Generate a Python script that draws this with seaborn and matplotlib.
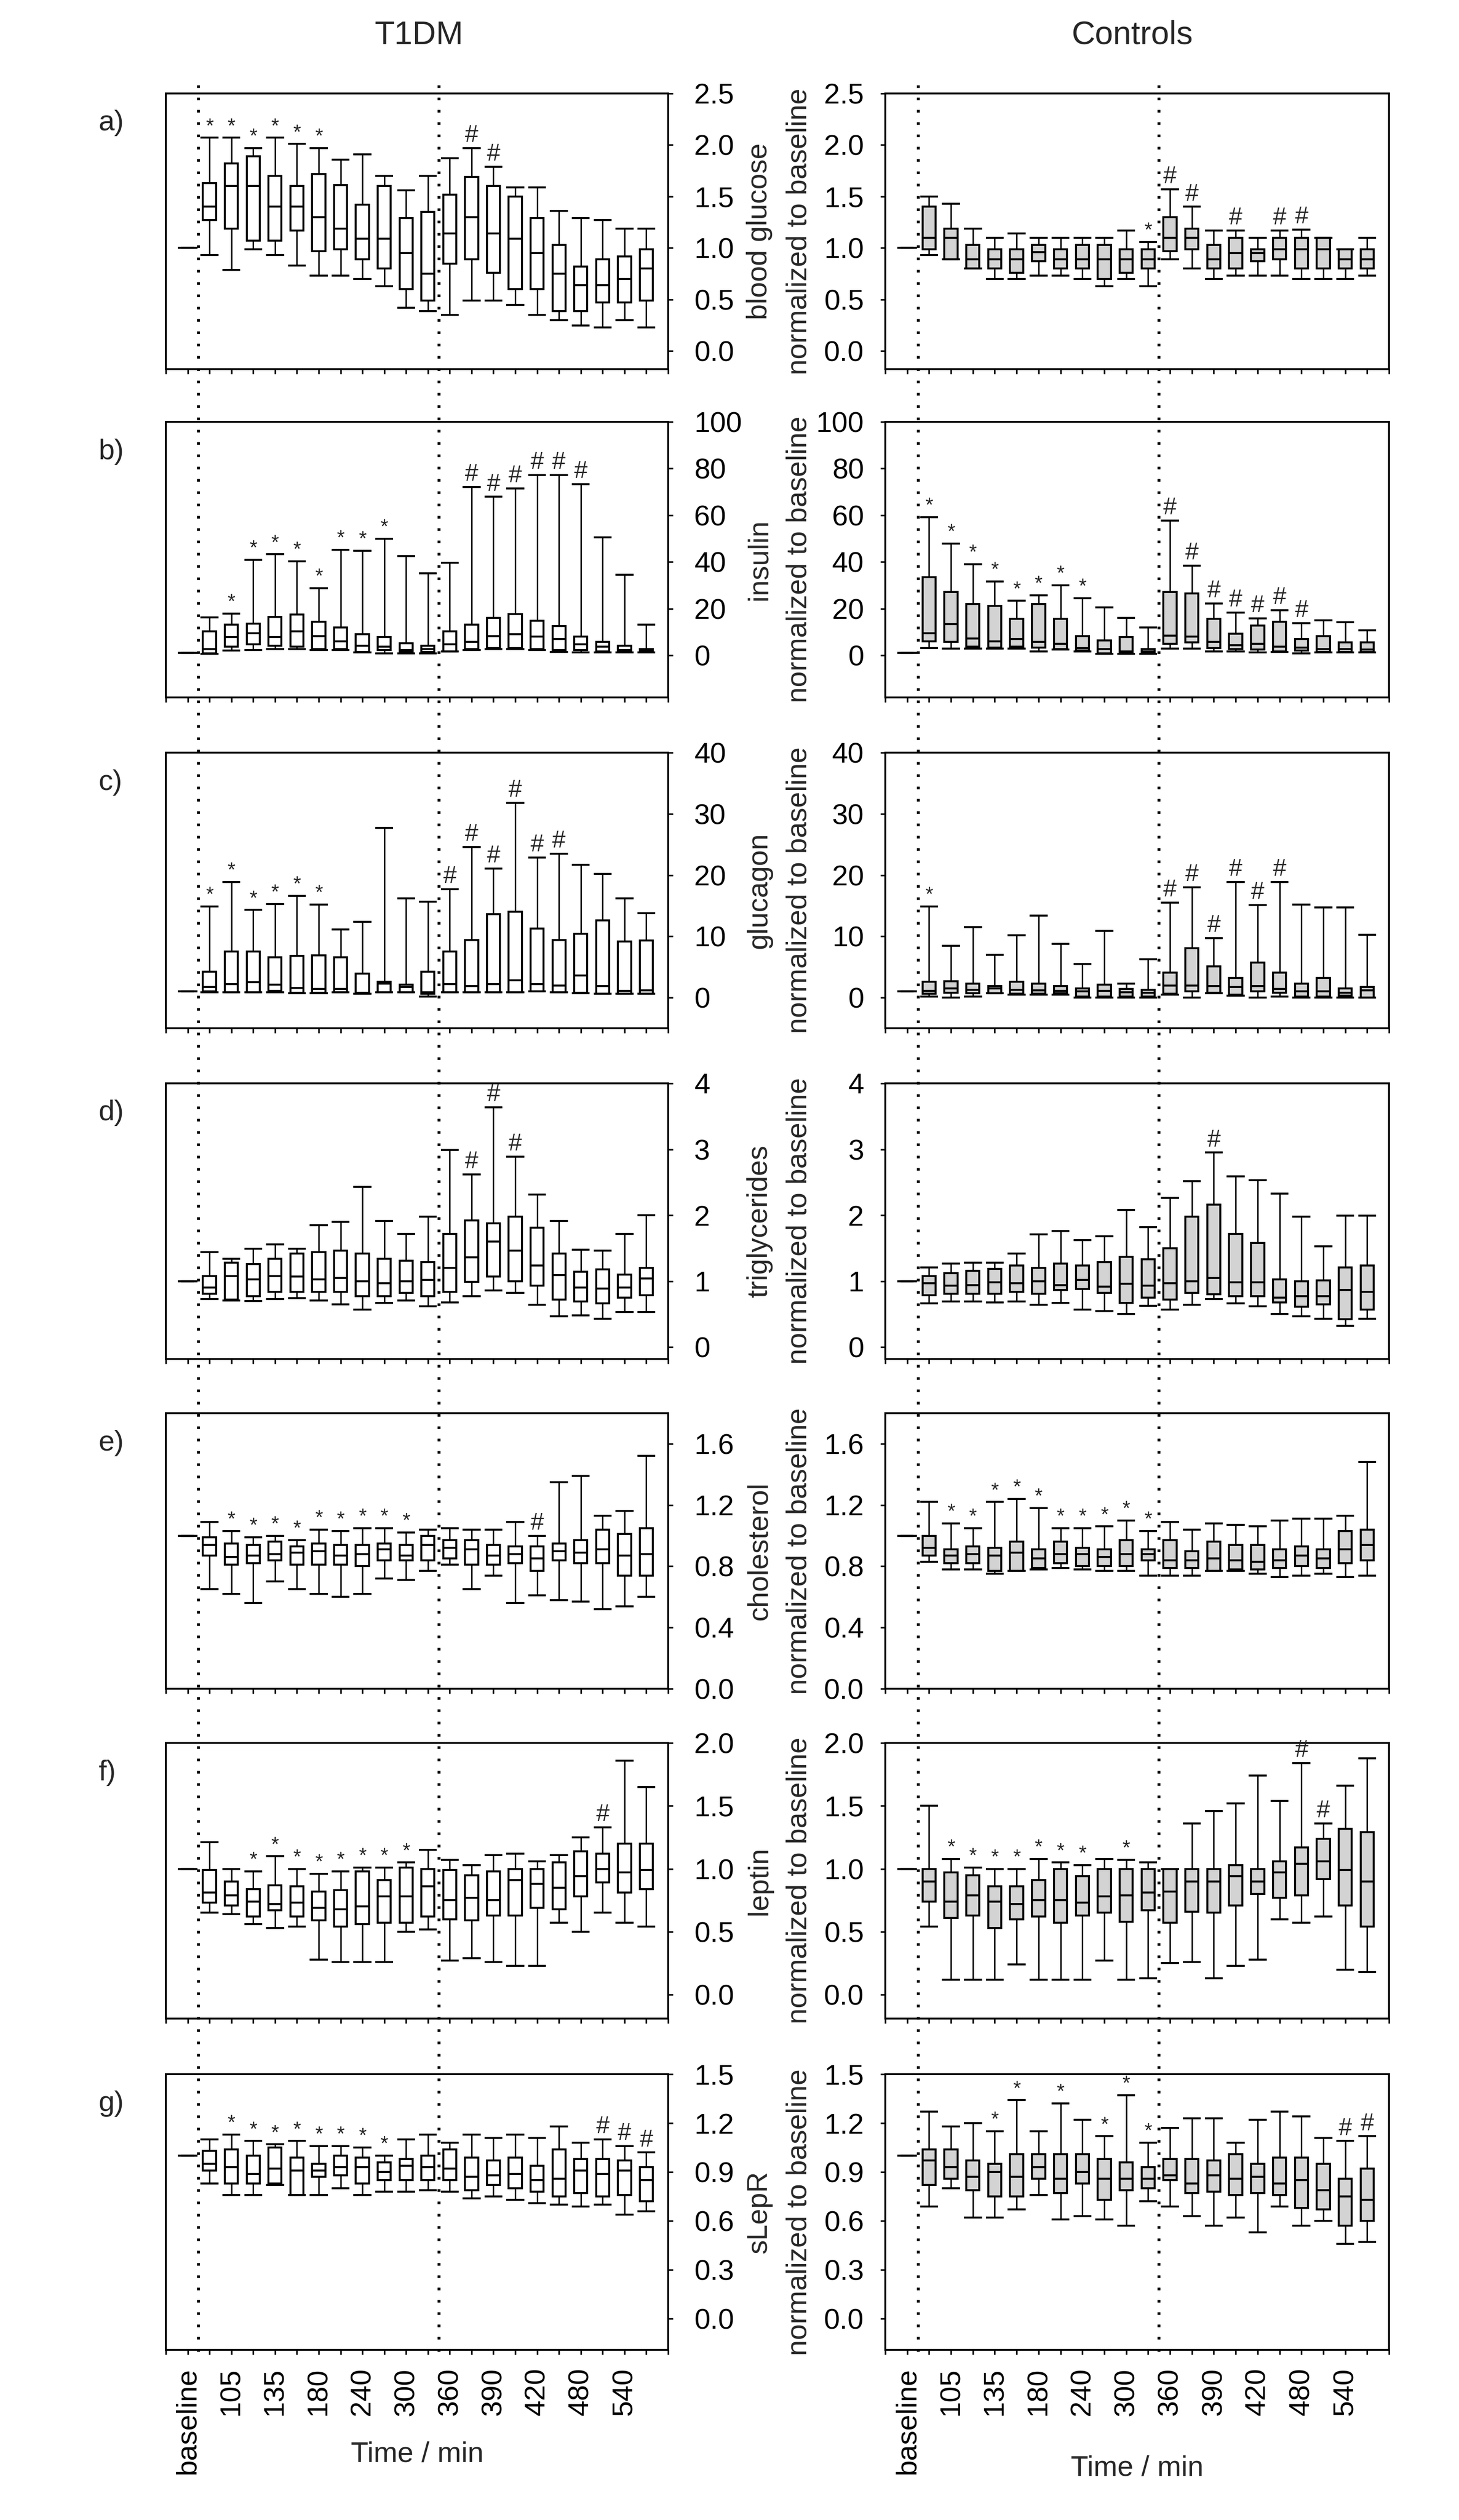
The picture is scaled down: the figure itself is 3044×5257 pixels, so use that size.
import numpy as np
import matplotlib
matplotlib.use("Agg")
import matplotlib.pyplot as plt
import matplotlib.transforms as mtransforms
from matplotlib.lines import Line2D
import seaborn as sns


# sampling points: baseline + 21 time points, only every second one labelled
TIME_LABELS = ["baseline", "", "105", "", "135", "", "180", "", "240", "", "300", "",
               "360", "", "390", "", "420", "", "480", "", "540", ""]
BASELINE = 1.0   # everything is normalized to baseline

# each row: (whisker low, q1, median, q3, whisker high), time points 2..22
GLUCOSE_T1DM = [(0.93, 1.27, 1.40, 1.63, 2.07), (0.79, 1.19, 1.60, 1.82, 2.07), (0.99, 1.07, 1.60, 1.89, 1.97),
                (0.93, 1.07, 1.40, 1.70, 2.07), (0.83, 1.17, 1.40, 1.60, 2.01), (0.73, 0.97, 1.30, 1.72, 1.97),
                (0.73, 0.99, 1.19, 1.61, 1.86), (0.70, 0.89, 1.09, 1.42, 1.91), (0.63, 0.80, 1.09, 1.60, 1.70),
                (0.42, 0.60, 0.95, 1.29, 1.56), (0.39, 0.49, 0.75, 1.35, 1.70), (0.35, 0.85, 1.14, 1.52, 1.87),
                (0.49, 0.89, 1.30, 1.69, 1.97), (0.49, 0.76, 1.14, 1.60, 1.79), (0.45, 0.60, 1.09, 1.50, 1.59),
                (0.35, 0.60, 0.95, 1.29, 1.59), (0.30, 0.39, 0.75, 1.03, 1.36), (0.25, 0.39, 0.64, 0.82, 1.29),
                (0.23, 0.47, 0.64, 0.89, 1.27), (0.30, 0.47, 0.70, 0.92, 1.19), (0.23, 0.49, 0.80, 0.99, 1.19)]
GLUCOSE_T1DM_SIG = "******------##-------"
GLUCOSE_CTRL = [(0.93, 0.99, 1.10, 1.40, 1.50), (0.89, 0.89, 1.10, 1.19, 1.43), (0.80, 0.80, 0.89, 1.03, 1.19),
                (0.70, 0.80, 0.89, 0.99, 1.10), (0.70, 0.76, 0.89, 0.99, 1.14), (0.73, 0.87, 0.96, 1.03, 1.10),
                (0.73, 0.80, 0.89, 0.99, 1.10), (0.70, 0.80, 0.89, 1.03, 1.10), (0.63, 0.70, 0.89, 1.03, 1.10),
                (0.70, 0.76, 0.89, 0.99, 1.17), (0.63, 0.80, 0.89, 0.99, 1.06), (0.89, 0.97, 1.10, 1.30, 1.57),
                (0.80, 0.99, 1.10, 1.19, 1.40), (0.70, 0.80, 0.89, 1.03, 1.17), (0.73, 0.80, 0.95, 1.10, 1.17),
                (0.73, 0.87, 0.95, 0.99, 1.10), (0.73, 0.89, 0.99, 1.10, 1.17), (0.70, 0.80, 0.99, 1.10, 1.18),
                (0.70, 0.80, 0.99, 1.10, 1.10), (0.70, 0.80, 0.89, 0.99, 0.99), (0.73, 0.80, 0.89, 0.99, 1.10)]
GLUCOSE_CTRL_SIG = "----------*##-#-##---"

INSULIN_T1DM = [(0.6, 0.9, 2.7, 10.3, 16.2), (2.1, 3.7, 7.8, 13.1, 18.0), (2.3, 4.8, 9.4, 13.7, 40.9),
                (2.7, 4.1, 7.8, 16.5, 43.3), (2.7, 3.7, 10.3, 17.4, 40.3), (2.3, 2.7, 8.2, 14.4, 28.8),
                (2.3, 2.7, 6.1, 11.9, 45.3), (1.2, 1.4, 4.1, 9.1, 44.8), (0.9, 2.3, 3.7, 7.8, 49.9),
                (0.9, 1.4, 2.3, 5.2, 42.5), (0.9, 1.4, 2.7, 4.1, 35.2), (1.6, 1.8, 4.8, 10.3, 39.6),
                (2.3, 2.7, 5.8, 13.1, 72.1), (2.7, 3.2, 8.2, 16.0, 67.9), (2.7, 3.2, 9.1, 17.8, 71.5),
                (2.3, 2.7, 8.0, 14.9, 77.3), (1.4, 2.3, 7.0, 12.5, 77.3), (1.2, 2.3, 4.8, 8.0, 73.4),
                (1.2, 1.8, 3.7, 5.8, 50.6), (1.2, 1.4, 2.3, 4.1, 34.5), (1.2, 1.8, 2.3, 2.7, 13.1)]
INSULIN_T1DM_SIG = "-********---######---"
INSULIN_CTRL = [(3.2, 6.0, 9.6, 33.5, 59.2), (3.0, 5.8, 13.5, 27.2, 47.9), (3.0, 3.7, 7.3, 22.0, 39.0),
                (3.0, 3.4, 6.0, 21.1, 31.7), (3.0, 3.7, 7.1, 15.6, 23.4), (1.8, 3.4, 5.8, 22.0, 25.7),
                (2.5, 2.8, 4.9, 15.6, 30.0), (1.8, 2.1, 3.2, 8.3, 24.5), (0.6, 0.9, 2.8, 6.4, 20.6),
                (0.6, 0.9, 1.8, 7.8, 16.1), (0.6, 0.9, 1.8, 2.8, 11.9), (3.0, 4.9, 8.5, 27.2, 57.8),
                (3.0, 5.5, 8.0, 26.6, 38.5), (1.6, 3.2, 5.8, 15.6, 22.3), (1.6, 2.8, 4.3, 9.2, 18.3),
                (1.2, 2.5, 4.9, 12.8, 15.9), (1.4, 1.8, 3.7, 14.4, 19.3), (0.9, 2.1, 3.4, 7.1, 13.8),
                (1.2, 1.4, 2.8, 8.3, 15.0), (1.2, 1.4, 2.8, 5.5, 14.2), (1.2, 1.4, 2.5, 5.5, 10.7)]
INSULIN_CTRL_SIG = "********---#######---"

GLUCAGON_T1DM = [(0.9, 1.0, 1.7, 4.2, 14.9), (0.9, 0.9, 2.2, 7.5, 18.9), (0.9, 0.9, 2.5, 7.5, 14.3),
                 (0.9, 1.1, 2.1, 6.6, 15.3), (0.7, 0.8, 1.6, 6.8, 16.6), (0.7, 0.8, 1.4, 6.9, 15.2),
                 (0.9, 0.9, 1.4, 6.6, 11.1), (0.6, 0.7, 0.8, 3.9, 12.4), (0.9, 0.9, 2.3, 2.6, 27.7),
                 (0.9, 0.9, 1.7, 2.1, 16.2), (0.2, 0.6, 0.9, 4.2, 15.7), (0.9, 0.9, 2.2, 7.5, 17.7),
                 (0.9, 0.9, 1.9, 9.4, 24.6), (0.9, 0.9, 2.2, 13.6, 21.1), (0.9, 0.9, 2.8, 14.0, 31.8),
                 (1.0, 1.0, 2.2, 11.3, 22.9), (0.9, 0.9, 2.0, 9.4, 23.5), (0.7, 0.8, 3.6, 10.4, 21.7),
                 (0.6, 0.6, 1.9, 12.6, 20.2), (0.6, 0.6, 1.1, 9.2, 16.2), (0.6, 0.6, 1.2, 9.3, 13.8)]
GLUCAGON_T1DM_SIG = "******-----######----"
GLUCAGON_CTRL = [(0.2, 0.6, 1.1, 2.6, 14.9), (0.0, 0.8, 1.5, 2.7, 8.5), (0.2, 0.7, 1.3, 2.3, 11.5),
                 (0.7, 0.7, 1.5, 1.9, 7.0), (0.5, 0.6, 1.3, 2.6, 10.2), (0.5, 0.6, 1.2, 2.3, 13.4),
                 (0.5, 0.7, 1.1, 1.9, 8.8), (0.0, 0.2, 1.0, 1.5, 5.5), (0.0, 0.2, 1.1, 2.1, 10.9),
                 (0.0, 0.2, 0.9, 1.4, 2.3), (0.0, 0.2, 0.8, 1.3, 6.3), (0.5, 0.6, 2.0, 4.1, 15.5),
                 (0.0, 1.0, 2.0, 8.1, 18.0), (0.7, 0.8, 1.9, 5.1, 9.7), (0.3, 0.5, 1.7, 3.2, 18.9),
                 (0.0, 1.0, 1.9, 5.7, 15.1), (0.2, 0.8, 1.4, 4.1, 18.9), (0.0, 0.2, 1.0, 2.3, 15.2),
                 (0.0, 0.2, 1.0, 3.2, 14.7), (0.0, 0.3, 0.8, 1.5, 14.7), (0.0, 0.0, 1.2, 1.7, 10.3)]
GLUCAGON_CTRL_SIG = "*----------######----"

TG_T1DM = [(0.73, 0.81, 0.90, 1.08, 1.44), (0.71, 0.72, 1.08, 1.28, 1.34), (0.70, 0.77, 1.03, 1.26, 1.49),
           (0.73, 0.84, 1.08, 1.34, 1.56), (0.74, 0.84, 1.07, 1.42, 1.49), (0.71, 0.84, 1.03, 1.44, 1.85),
           (0.65, 0.84, 1.05, 1.46, 1.90), (0.57, 0.77, 1.00, 1.42, 2.43), (0.67, 0.77, 0.97, 1.34, 1.91),
           (0.71, 0.82, 1.00, 1.31, 1.72), (0.62, 0.77, 1.02, 1.29, 1.98), (0.68, 0.84, 1.20, 1.72, 2.99),
           (0.77, 0.99, 1.36, 1.92, 2.62), (0.86, 1.07, 1.60, 1.88, 3.64), (0.82, 1.00, 1.46, 1.98, 2.89),
           (0.64, 0.93, 1.24, 1.81, 2.31), (0.47, 0.72, 1.09, 1.42, 1.91), (0.48, 0.69, 0.90, 1.14, 1.48),
           (0.43, 0.66, 0.89, 1.18, 1.46), (0.53, 0.75, 0.90, 1.10, 1.72), (0.53, 0.79, 1.04, 1.20, 2.00)]
TG_T1DM_SIG = "------------###------"
TG_CTRL = [(0.66, 0.79, 0.97, 1.08, 1.21), (0.69, 0.81, 0.93, 1.12, 1.27), (0.69, 0.81, 0.94, 1.16, 1.28),
           (0.68, 0.81, 0.98, 1.19, 1.28), (0.69, 0.84, 0.97, 1.24, 1.42), (0.64, 0.81, 1.00, 1.20, 1.71),
           (0.67, 0.87, 0.94, 1.27, 1.76), (0.57, 0.88, 1.02, 1.24, 1.62), (0.55, 0.82, 0.92, 1.29, 1.68),
           (0.50, 0.67, 0.96, 1.37, 2.08), (0.63, 0.75, 0.93, 1.33, 1.82), (0.57, 0.72, 0.97, 1.50, 2.26),
           (0.64, 0.82, 1.00, 1.98, 2.52), (0.73, 0.80, 1.05, 2.16, 2.95), (0.66, 0.77, 0.98, 1.72, 2.59),
           (0.62, 0.77, 0.98, 1.58, 2.53), (0.50, 0.68, 0.75, 1.03, 2.33), (0.47, 0.61, 0.77, 1.00, 1.98),
           (0.43, 0.65, 0.77, 1.01, 1.53), (0.32, 0.42, 0.87, 1.21, 1.99), (0.43, 0.57, 0.84, 1.24, 1.99)]
TG_CTRL_SIG = "-------------#-------"

CHOL_T1DM = [(0.65, 0.87, 0.94, 0.99, 1.09), (0.62, 0.81, 0.86, 0.95, 1.03), (0.56, 0.82, 0.87, 0.94, 0.99),
             (0.70, 0.84, 0.88, 0.96, 1.00), (0.65, 0.81, 0.89, 0.93, 0.97), (0.62, 0.81, 0.90, 0.95, 1.04),
             (0.60, 0.81, 0.87, 0.94, 1.03), (0.62, 0.80, 0.88, 0.94, 1.05), (0.72, 0.84, 0.91, 0.95, 1.05),
             (0.71, 0.84, 0.87, 0.94, 1.02), (0.77, 0.84, 0.94, 1.00, 1.04), (0.81, 0.85, 0.92, 0.97, 1.05),
             (0.65, 0.81, 0.91, 0.97, 1.04), (0.74, 0.81, 0.87, 0.94, 1.04), (0.56, 0.82, 0.88, 0.93, 1.09),
             (0.61, 0.77, 0.85, 0.93, 1.00), (0.58, 0.84, 0.90, 0.95, 1.35), (0.57, 0.82, 0.89, 0.97, 1.39),
             (0.52, 0.82, 0.91, 1.04, 1.13), (0.54, 0.74, 0.87, 1.01, 1.16), (0.60, 0.74, 0.88, 1.05, 1.52)]
CHOL_T1DM_SIG = "-*********-----#-----"
CHOL_CTRL = [(0.83, 0.87, 0.92, 1.00, 1.22), (0.78, 0.82, 0.87, 0.91, 1.08), (0.78, 0.82, 0.88, 0.93, 1.05),
             (0.75, 0.77, 0.87, 0.92, 1.22), (0.77, 0.77, 0.89, 0.96, 1.24), (0.78, 0.79, 0.85, 0.91, 1.18),
             (0.79, 0.82, 0.88, 0.96, 1.05), (0.78, 0.80, 0.88, 0.92, 1.05), (0.77, 0.80, 0.86, 0.91, 1.06),
             (0.77, 0.80, 0.88, 0.97, 1.10), (0.74, 0.84, 0.88, 0.91, 1.03), (0.74, 0.79, 0.84, 0.97, 1.09),
             (0.74, 0.79, 0.84, 0.90, 1.04), (0.77, 0.77, 0.85, 0.96, 1.08), (0.77, 0.78, 0.84, 0.94, 1.07),
             (0.75, 0.78, 0.83, 0.94, 1.06), (0.73, 0.79, 0.84, 0.91, 1.10), (0.74, 0.80, 0.87, 0.93, 1.11),
             (0.75, 0.79, 0.85, 0.91, 1.11), (0.73, 0.82, 0.91, 1.03, 1.13), (0.74, 0.84, 0.94, 1.04, 1.48)]
CHOL_CTRL_SIG = "-**********----------"

LEPTIN_T1DM = [(0.65, 0.73, 0.81, 0.99, 1.21), (0.64, 0.71, 0.79, 0.90, 1.00), (0.56, 0.62, 0.74, 0.84, 0.98),
               (0.53, 0.67, 0.72, 0.87, 1.10), (0.54, 0.62, 0.73, 0.86, 1.00), (0.28, 0.59, 0.69, 0.82, 0.96),
               (0.26, 0.54, 0.68, 0.83, 0.98), (0.26, 0.56, 0.70, 0.98, 1.01), (0.26, 0.57, 0.78, 0.91, 1.01),
               (0.50, 0.57, 0.78, 1.01, 1.05), (0.52, 0.62, 0.86, 1.00, 1.15), (0.27, 0.60, 0.75, 0.99, 1.07),
               (0.29, 0.59, 0.77, 0.95, 1.03), (0.26, 0.63, 0.75, 0.98, 1.11), (0.23, 0.63, 0.91, 1.00, 1.12),
               (0.23, 0.69, 0.88, 1.00, 1.06), (0.57, 0.68, 0.85, 1.05, 1.11), (0.50, 0.78, 0.94, 1.14, 1.25),
               (0.65, 0.89, 1.00, 1.12, 1.33), (0.57, 0.81, 0.97, 1.20, 1.86), (0.54, 0.84, 0.99, 1.20, 1.65)]
LEPTIN_T1DM_SIG = "--********--------#--"
LEPTIN_CTRL = [(0.54, 0.74, 0.90, 1.00, 1.50), (0.12, 0.61, 0.74, 0.97, 1.08), (0.12, 0.63, 0.79, 0.95, 1.01),
               (0.12, 0.53, 0.74, 0.86, 1.00), (0.24, 0.60, 0.72, 0.86, 1.00), (0.12, 0.62, 0.75, 0.91, 1.08),
               (0.12, 0.57, 0.75, 1.00, 1.05), (0.12, 0.63, 0.73, 0.94, 1.03), (0.27, 0.65, 0.78, 1.00, 1.08),
               (0.12, 0.58, 0.79, 1.00, 1.07), (0.13, 0.67, 0.81, 1.00, 1.05), (0.25, 0.57, 0.82, 1.00, 1.00),
               (0.26, 0.66, 0.90, 1.00, 1.36), (0.13, 0.65, 0.90, 1.00, 1.46), (0.23, 0.71, 0.94, 1.03, 1.52),
               (0.28, 0.80, 0.90, 1.00, 1.74), (0.60, 0.77, 0.97, 1.06, 1.54), (0.57, 0.79, 1.04, 1.17, 1.84),
               (0.62, 0.92, 1.06, 1.24, 1.36), (0.20, 0.71, 0.99, 1.32, 1.66), (0.18, 0.54, 0.90, 1.29, 1.88)]
LEPTIN_CTRL_SIG = "-*******-*-------##--"

SLEPR_T1DM = [(0.83, 0.91, 0.95, 1.03, 1.10), (0.76, 0.83, 0.93, 1.04, 1.13), (0.76, 0.83, 0.89, 1.00, 1.09),
              (0.82, 0.83, 0.92, 1.05, 1.07), (0.76, 0.76, 0.91, 0.99, 1.09), (0.76, 0.87, 0.91, 0.95, 1.06),
              (0.80, 0.88, 0.93, 1.00, 1.06), (0.76, 0.83, 0.93, 0.99, 1.05), (0.78, 0.85, 0.90, 0.96, 1.00),
              (0.78, 0.85, 0.94, 0.98, 1.10), (0.79, 0.85, 0.93, 1.00, 1.13), (0.78, 0.85, 0.92, 1.04, 1.08),
              (0.74, 0.79, 0.87, 0.99, 1.13), (0.75, 0.82, 0.88, 0.97, 1.11), (0.73, 0.80, 0.89, 0.99, 1.13),
              (0.71, 0.78, 0.85, 0.94, 1.11), (0.70, 0.75, 0.86, 1.04, 1.18), (0.69, 0.77, 0.91, 0.98, 1.08),
              (0.70, 0.75, 0.89, 0.98, 1.10), (0.64, 0.76, 0.91, 0.97, 1.06), (0.66, 0.72, 0.85, 0.93, 1.02)]
SLEPR_T1DM_SIG = "-********---------###"
SLEPR_CTRL = [(0.69, 0.82, 0.97, 1.04, 1.27), (0.80, 0.86, 0.93, 1.04, 1.18), (0.62, 0.79, 0.87, 0.97, 1.20),
              (0.62, 0.75, 0.90, 0.95, 1.15), (0.67, 0.75, 0.87, 1.01, 1.34), (0.76, 0.86, 0.93, 1.01, 1.15),
              (0.61, 0.77, 0.86, 1.01, 1.32), (0.63, 0.83, 0.90, 1.01, 1.22), (0.61, 0.73, 0.86, 0.98, 1.12),
              (0.57, 0.79, 0.86, 0.96, 1.37), (0.72, 0.80, 0.86, 0.93, 1.08), (0.69, 0.85, 0.88, 0.98, 1.17),
              (0.63, 0.77, 0.83, 0.98, 1.23), (0.57, 0.78, 0.88, 0.97, 1.23), (0.62, 0.76, 0.86, 1.01, 1.08),
              (0.53, 0.77, 0.87, 0.95, 1.22), (0.69, 0.76, 0.83, 0.99, 1.27), (0.57, 0.68, 0.85, 0.99, 1.24),
              (0.60, 0.67, 0.79, 0.95, 1.11), (0.46, 0.57, 0.75, 0.86, 1.09), (0.47, 0.60, 0.73, 0.92, 1.12)]
SLEPR_CTRL_SIG = "---**-*-***--------##"

PANELS = [
    ("a)", "blood glucose", GLUCOSE_T1DM, GLUCOSE_T1DM_SIG, GLUCOSE_CTRL, GLUCOSE_CTRL_SIG,
     (-0.175, 2.5), [0.0, 0.5, 1.0, 1.5, 2.0, 2.5], "{:.1f}"),
    ("b)", "insulin", INSULIN_T1DM, INSULIN_T1DM_SIG, INSULIN_CTRL, INSULIN_CTRL_SIG,
     (-18, 100), [0, 20, 40, 60, 80, 100], "{:.0f}"),
    ("c)", "glucagon", GLUCAGON_T1DM, GLUCAGON_T1DM_SIG, GLUCAGON_CTRL, GLUCAGON_CTRL_SIG,
     (-5, 40), [0, 10, 20, 30, 40], "{:.0f}"),
    ("d)", "triglycerides", TG_T1DM, TG_T1DM_SIG, TG_CTRL, TG_CTRL_SIG,
     (-0.18, 4), [0, 1, 2, 3, 4], "{:.0f}"),
    ("e)", "cholesterol", CHOL_T1DM, CHOL_T1DM_SIG, CHOL_CTRL, CHOL_CTRL_SIG,
     (0.0, 1.8), [0.0, 0.4, 0.8, 1.2, 1.6], "{:.1f}"),
    ("f)", "leptin", LEPTIN_T1DM, LEPTIN_T1DM_SIG, LEPTIN_CTRL, LEPTIN_CTRL_SIG,
     (-0.19, 2.0), [0.0, 0.5, 1.0, 1.5, 2.0], "{:.1f}"),
    ("g)", "sLepR", SLEPR_T1DM, SLEPR_T1DM_SIG, SLEPR_CTRL, SLEPR_CTRL_SIG,
     (-0.19, 1.5), [0.0, 0.3, 0.6, 0.9, 1.2, 1.5], "{:.1f}"),
]


sns.set_theme(style="ticks", rc={"axes.edgecolor": "black", "axes.linewidth": 2.6,
                                 "xtick.color": "black", "ytick.color": "black"})
plt.rcParams["font.family"] = ["Liberation Sans", "DejaVu Sans"]

W, H = 3044, 5257
FS = 43
fig = plt.figure(figsize=(W / 100, H / 100), dpi=100)


def px_axes(x0, top, w, h):
    return fig.add_axes([x0 / W, 1 - (top + h) / H, w / W, h / H])


def draw_boxes(ax, rows, sig, fill):
    assert len(rows) == 21 and len(sig) == 21
    stats = [dict(whislo=BASELINE, q1=BASELINE, med=BASELINE, q3=BASELINE, whishi=BASELINE, fliers=[])]
    for lo, q1, med, q3, hi in rows:
        stats.append(dict(whislo=lo, q1=q1, med=med, q3=q3, whishi=hi, fliers=[]))
    pos = np.arange(1, len(stats) + 1)
    ax.bxp(stats, positions=pos, widths=0.6, capwidths=[0.9] + [0.82] * (len(stats) - 1),
           patch_artist=True, showfliers=False, manage_ticks=False,
           boxprops=dict(facecolor=fill, edgecolor="black", linewidth=3.0),
           medianprops=dict(color="black", linewidth=3.0, solid_capstyle="butt"),
           whiskerprops=dict(color="black", linewidth=2.2),
           capprops=dict(color="black", linewidth=3.0, solid_capstyle="butt"))
    for p, s, st in zip(pos[1:], sig, stats[1:]):
        if s in "*#":
            ax.annotate(s, xy=(p, st["whishi"]), xytext=(0, 2), textcoords="offset points",
                        ha="center", va="bottom", fontsize=30 if s == "*" else 36)


def style_axes(ax, ylim, yticks, fmt, side, bottom_row):
    ax.set_xlim(0, 23)
    ax.set_ylim(*ylim)
    ax.set_yticks(yticks)
    ax.set_yticklabels([fmt.format(v) for v in yticks])
    ax.set_xticks(range(24))
    for sp in ax.spines.values():
        sp.set_linewidth(2.8)
        sp.set_color("black")
    if side == "right":
        ax.yaxis.tick_right()
        ax.tick_params(axis="y", direction="out", length=7, width=2.4, pad=32, labelsize=FS)
    else:
        ax.tick_params(axis="y", direction="out", length=7, width=2.4, pad=25, labelsize=FS)
    ax.tick_params(axis="x", direction="out", length=7, width=2.4, bottom=True, top=False)
    if bottom_row:
        ax.set_xticklabels([""] + TIME_LABELS + [""], rotation=90, fontsize=FS)
        ax.tick_params(axis="x", pad=20)
    else:
        ax.tick_params(axis="x", labelbottom=False)


TOPS = [195, 880, 1570, 2260, 2948, 3636, 4327]
AX_H = 575
LEFT_X, LEFT_W = 346, 1048
RIGHT_X, RIGHT_W = 1847, 1051

first_axes = []
for i, (letter, name, t1, t1sig, ct, ctsig, ylim, yticks, fmt) in enumerate(PANELS):
    top = TOPS[i]
    last = i == len(PANELS) - 1
    axl = px_axes(LEFT_X, top, LEFT_W, AX_H)
    draw_boxes(axl, t1, t1sig, "white")
    style_axes(axl, ylim, yticks, fmt, "right", last)

    axr = px_axes(RIGHT_X, top, RIGHT_W, AX_H)
    draw_boxes(axr, ct, ctsig, "#d3d3d3")
    style_axes(axr, ylim, yticks, fmt, "left", last)
    axr.set_ylabel(name + "\nnormalized to baseline", fontsize=FS, linespacing=1.65)
    axr.yaxis.set_label_coords(-0.145, 0.5)

    fig.text(205 / W, 1 - (top + 62) / H, letter, ha="left", va="center", fontsize=FS)

    if i == 0:
        first_axes = [axl, axr]
    if last:
        axl.set_xlabel("Time / min", fontsize=FS)
        axl.xaxis.set_label_coords(0.5, -0.332)
        axr.set_xlabel("Time / min", fontsize=FS)
        axr.xaxis.set_label_coords(0.5, -0.382)

# dotted phase separators running through all panels of a column
for ax in first_axes:
    trans = mtransforms.blended_transform_factory(ax.transData, fig.transFigure)
    for xv in (1.5, 12.5):
        fig.add_artist(Line2D([xv, xv], [1 - 178 / H, 1 - 4910 / H], transform=trans,
                              color="black", lw=4.4, linestyle=(0, (0.9, 3.3))))

fig.text(874 / W, 1 - 74 / H, "T1DM", ha="center", va="center", fontsize=49)
fig.text(2362 / W, 1 - 74 / H, "Controls", ha="center", va="center", fontsize=49)

fig.savefig("out.png", dpi=100)
